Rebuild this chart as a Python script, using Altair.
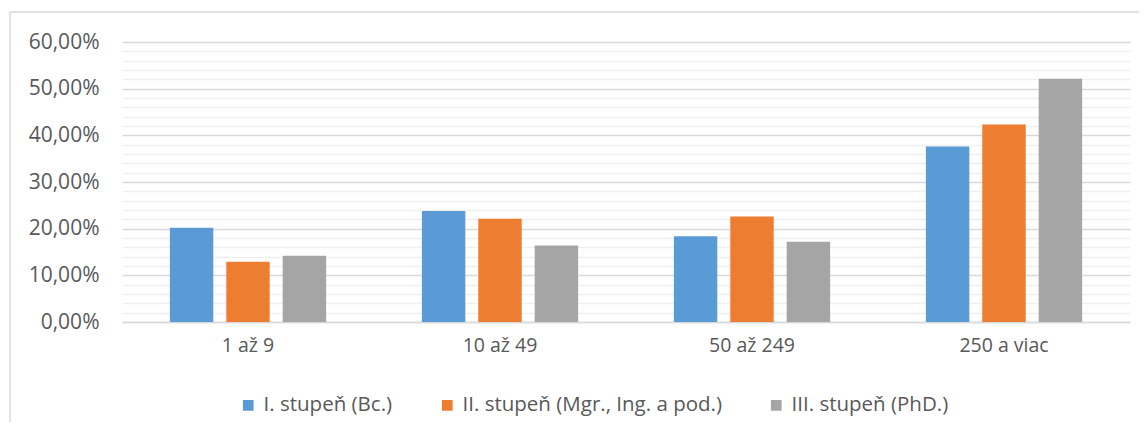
import altair as alt
import pandas as pd

categories = ["1 až 9", "10 až 49", "50 až 249", "250 a viac"]
series = ["I. stupeň (Bc.)", "II. stupeň (Mgr., Ing. a pod.)", "III. stupeň (PhD.)"]
bc = [20.2, 23.8, 18.4, 37.6]
mgr = [12.9, 22.1, 22.6, 42.3]
phd = [14.2, 16.4, 17.2, 52.1]
colors = ["#5B9BD5", "#ED7D31", "#A5A5A5"]
y_ticks = list(range(0, 61, 2))

rows = []
for name, vals in zip(series, [bc, mgr, phd]):
    for c, v in zip(categories, vals):
        rows.append({"kat": c, "stupen": name, "hodnota": v})
df = pd.DataFrame(rows)

FONT = "Open Sans"
TXT = "#595959"

bars = alt.Chart(df).mark_bar().encode(
    x=alt.X("kat:N", sort=categories, title=None,
            scale=alt.Scale(paddingInner=0.38, paddingOuter=0.19),
            axis=alt.Axis(labelAngle=0, ticks=False, domainColor="#d9d9d9",
                          domainWidth=1.3,
                          labelPadding=14, labelFontSize=19.5, labelFont=FONT,
                          labelColor=TXT)),
    xOffset=alt.XOffset("stupen:N", sort=series,
                        scale=alt.Scale(paddingInner=0.23, paddingOuter=0)),
    y=alt.Y("hodnota:Q", title=None,
            scale=alt.Scale(domain=[0, 60], nice=False),
            axis=alt.Axis(values=y_ticks, ticks=False, domain=False,
                          labelExpr="datum.value % 10 === 0 ? replace(format(datum.value, '.2f'), '.', ',') + '%' : ''",
                          gridColor=alt.condition("datum.value % 10 === 0", alt.value("#d9d9d9"), alt.value("#f0f0f0")),
                          gridWidth=1.3,
                          labelFontSize=21, labelFont=FONT, labelColor=TXT,
                          labelPadding=23)),
    color=alt.Color("stupen:N", sort=series,
                    scale=alt.Scale(domain=series, range=colors),
                    legend=alt.Legend(title=None, orient="none", direction="horizontal",
                                      legendX=116, legendY=353,
                                      symbolType="square", symbolSize=115,
                                      symbolStrokeWidth=0, labelFontSize=20.5,
                                      labelFont=FONT, labelColor=TXT, labelLimit=0,
                                      columnPadding=44, labelOffset=5)),
)

border = alt.Chart(pd.DataFrame({"a": [0]})).mark_rule(color="#d9d9d9", strokeWidth=1.5).encode(
    x=alt.value(-112), y=alt.value(-30), y2=alt.value(400)
)
border_top = alt.Chart(pd.DataFrame({"a": [0]})).mark_rule(color="#d9d9d9", strokeWidth=1.5).encode(
    x=alt.value(-112), x2=alt.value(1020), y=alt.value(-30)
)

chart = alt.layer(bars, border, border_top).properties(
    width=1008, height=280,
    padding={"left": 114, "top": 34, "right": 9, "bottom": 100},
    autosize=alt.AutoSizeParams(type="none"),
).configure_view(stroke=None)

chart.save("out.html", embed_options={"renderer": "svg", "actions": False})
